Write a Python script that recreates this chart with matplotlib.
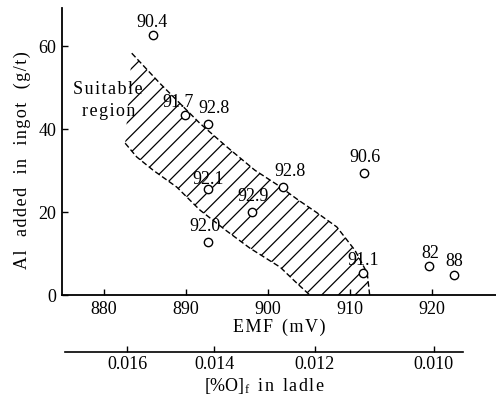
import numpy as np
import matplotlib
matplotlib.use("Agg")
import matplotlib.pyplot as plt
from matplotlib.patches import Polygon

plt.rcParams['font.family'] = ['Liberation Serif', 'DejaVu Serif']
plt.rcParams['mathtext.fontset'] = 'custom'
plt.rcParams['mathtext.rm'] = 'Liberation Serif'
plt.rcParams['mathtext.it'] = 'Liberation Serif:italic'
plt.rcParams['hatch.linewidth'] = 0.9

# ---- data ----
emf = [886.0, 889.9, 892.7, 892.7, 892.7, 898.0, 901.8, 911.7, 911.6, 919.6, 922.7]
al_added = [62.7, 43.4, 41.2, 25.5, 12.8, 20.0, 26.0, 29.4, 5.3, 7.0, 4.8]
point_labels = ["90.4", "91.7", "92.8", "92.1", "92.0", "92.9", "92.8", "90.6", "91.1", "82", "88"]

upper_emf = [883.4, 886.8, 891.7, 895.0, 898.4, 901.2, 903.7, 906.0, 908.4, 910.6, 912.1, 912.4]
upper_al = [58.3, 51.1, 41.4, 35.7, 30.1, 26.5, 22.9, 19.8, 16.4, 10.8, 5.3, 0.0]
lower_emf = [882.6, 884.0, 886.0, 888.9, 891.7, 894.8, 897.8, 901.5, 903.5, 905.1]
lower_al = [36.6, 33.3, 30.1, 26.0, 20.5, 15.7, 11.3, 6.7, 2.9, 0.0]

x_ticks = [880, 890, 900, 910, 920]
y_ticks = [0, 20, 40, 60]
oxygen_ticks = [0.016, 0.014, 0.012, 0.010]
oxygen_tick_labels = ["0.016", "0.014", "0.012", "0.010"]

# label offsets in points (dx, dy)
label_offsets = [(-1, 9), (-5, 9), (4, 11), (0, 7), (-2, 11), (1, 11), (5, 11), (1, 11), (0, 9), (1, 9), (0, 10)]


def oxygen_to_emf(o):
    return 900.55 - 79.6 * (np.log(o) + 4.358)


def spaced(s, word_gap="  "):
    hs = "\u200a"
    return word_gap.join(hs.join(w) for w in s.split(" "))


fig = plt.figure(figsize=(4.96, 4.03), dpi=100)
ax = fig.add_axes([62 / 496, 1 - 295 / 403, 1 - 62 / 496, (295 - 8) / 403])
ax.set_xlim(874.9, 927.8)
ax.set_ylim(0, 69.2)
for s in ['top', 'right']:
    ax.spines[s].set_visible(False)
for s in ['left', 'bottom']:
    ax.spines[s].set_linewidth(1.3)

band = list(zip(upper_emf, upper_al)) + list(zip(lower_emf[::-1], lower_al[::-1]))
ax.add_patch(Polygon(band, closed=True, facecolor='none', edgecolor='black',
                     hatch='//', linewidth=0))
ax.plot(upper_emf, upper_al, color='black', lw=1.0, ls=(0, (4, 2)))
ax.plot(lower_emf, lower_al, color='black', lw=1.0, ls=(0, (4, 2)))

ax.plot(emf, al_added, 'o', ms=6, mfc='white', mec='black', mew=1.0, zorder=5)
for x, y, t, (dx, dy) in zip(emf, al_added, point_labels, label_offsets):
    ax.annotate(t, (x, y), xytext=(dx, dy), textcoords='offset points',
                ha='center', va='center', fontsize=13)

fig.text(108 / 496, 1 - 90 / 403, spaced("Suitable"), ha='center', va='center', fontsize=13)
fig.text(109 / 496, 1 - 112 / 403, spaced("region"), ha='center', va='center', fontsize=13)

ax.set_xticks(x_ticks)
ax.set_yticks(y_ticks)
ax.tick_params(direction='in', length=4, width=1, labelsize=13, pad=4)
ax.set_xlabel(spaced("EMF (mV)"), fontsize=13, labelpad=1)
ax.set_ylabel("")
fig.text(22 / 496, 1 - 160 / 403, spaced("Al added in ingot (g/t)", "   "),
         rotation=90, ha='center', va='center', fontsize=13)

# secondary oxygen axis
ax2 = fig.add_axes([65 / 496, 1 - 352 / 403, (463 - 65) / 496, 0.001])
ax2.set_xlim(875.2, 923.8)
ax2.set_ylim(0, 1)
for s in ['top', 'right', 'left']:
    ax2.spines[s].set_visible(False)
ax2.spines['bottom'].set_linewidth(1.2)
ax2.set_yticks([])
ax2.set_xticks([oxygen_to_emf(o) for o in oxygen_ticks])
ax2.set_xticklabels(oxygen_tick_labels)
ax2.tick_params(axis='x', direction='in', length=4, width=1, labelsize=13, pad=3)
ax2.set_xlabel("[%O]$_{\\rm f}$  " + spaced("in ladle"), fontsize=13, labelpad=2)

fig.savefig("out.png", dpi=100)
